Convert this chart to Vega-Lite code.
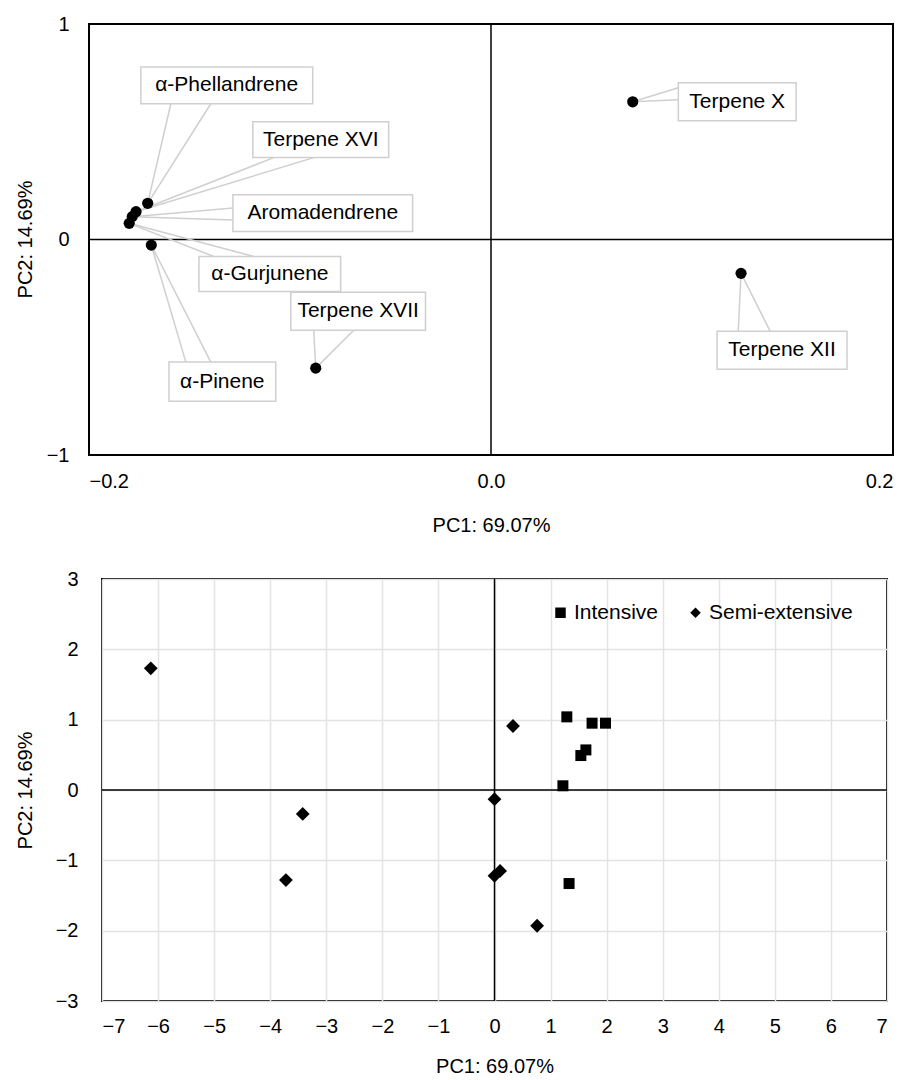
{
  "$schema": "https://vega.github.io/schema/vega-lite/v6.json",
  "padding": {"left": 14, "top": 14, "right": 5, "bottom": 5},
  "spacing": 33,
  "config": {
    "view": {"stroke": "black", "strokeWidth": 2},
    "font": "Liberation Sans",
    "axis": {"labelFont": "Liberation Sans", "titleFont": "Liberation Sans", "labelColor": "black", "titleColor": "black", "titleFontWeight": "normal", "labelFontSize": 20, "titleFontSize": 20, "ticks": false, "domain": false, "labelOverlap": false}
  },
  "datasets": {
    "loadings": [
      {"name": "α-Phellandrene", "pc1": -0.1708, "pc2": 0.168},
      {"name": "Terpene XVI", "pc1": -0.1766, "pc2": 0.129},
      {"name": "Aromadendrene", "pc1": -0.1785, "pc2": 0.106},
      {"name": "α-Gurjunene", "pc1": -0.180, "pc2": 0.075},
      {"name": "α-Pinene", "pc1": -0.169, "pc2": -0.026},
      {"name": "Terpene XVII", "pc1": -0.0872, "pc2": -0.597},
      {"name": "Terpene X", "pc1": 0.0705, "pc2": 0.639},
      {"name": "Terpene XII", "pc1": 0.1244, "pc2": -0.157}
    ],
    "labels": [
      {"name": "α-Phellandrene", "bx1": -0.1742, "bx2": -0.0887, "by1": 0.630, "by2": 0.801, "tx": -0.1315, "ty": 0.716},
      {"name": "Terpene XVI", "bx1": -0.1185, "bx2": -0.0509, "by1": 0.380, "by2": 0.546, "tx": -0.0847, "ty": 0.463},
      {"name": "Aromadendrene", "bx1": -0.1284, "bx2": -0.0390, "by1": 0.037, "by2": 0.208, "tx": -0.0837, "ty": 0.123},
      {"name": "α-Gurjunene", "bx1": -0.1453, "bx2": -0.0748, "by1": -0.241, "by2": -0.079, "tx": -0.110, "ty": -0.160},
      {"name": "Terpene XVII", "bx1": -0.0996, "bx2": -0.0326, "by1": -0.421, "by2": -0.245, "tx": -0.0661, "ty": -0.333},
      {"name": "α-Pinene", "bx1": -0.1602, "bx2": -0.1071, "by1": -0.750, "by2": -0.569, "tx": -0.1337, "ty": -0.660},
      {"name": "Terpene X", "bx1": 0.0932, "bx2": 0.1518, "by1": 0.551, "by2": 0.727, "tx": 0.1225, "ty": 0.639},
      {"name": "Terpene XII", "bx1": 0.1125, "bx2": 0.1771, "by1": -0.602, "by2": -0.426, "tx": 0.1448, "ty": -0.514}
    ],
    "leaders": [
      {"name": "α-Phellandrene", "px": -0.1708, "py": 0.168, "ax": -0.1593, "ay": 0.630},
      {"name": "α-Phellandrene", "px": -0.1708, "py": 0.168, "ax": -0.1394, "ay": 0.630},
      {"name": "Terpene XVI", "px": -0.1766, "py": 0.129, "ax": -0.1081, "ay": 0.380},
      {"name": "Terpene XVI", "px": -0.1766, "py": 0.129, "ax": -0.0882, "ay": 0.380},
      {"name": "Aromadendrene", "px": -0.1785, "py": 0.106, "ax": -0.1284, "ay": 0.146},
      {"name": "Aromadendrene", "px": -0.1785, "py": 0.106, "ax": -0.1284, "ay": 0.091},
      {"name": "α-Gurjunene", "px": -0.180, "py": 0.075, "ax": -0.1379, "ay": -0.079},
      {"name": "α-Gurjunene", "px": -0.180, "py": 0.075, "ax": -0.118, "ay": -0.079},
      {"name": "Terpene XVII", "px": -0.0872, "py": -0.597, "ax": -0.0882, "ay": -0.421},
      {"name": "Terpene XVII", "px": -0.0872, "py": -0.597, "ax": -0.0683, "ay": -0.421},
      {"name": "α-Pinene", "px": -0.169, "py": -0.026, "ax": -0.1518, "ay": -0.569},
      {"name": "α-Pinene", "px": -0.169, "py": -0.026, "ax": -0.1394, "ay": -0.569},
      {"name": "Terpene X", "px": 0.0705, "py": 0.639, "ax": 0.0932, "ay": 0.704},
      {"name": "Terpene X", "px": 0.0705, "py": 0.639, "ax": 0.0932, "ay": 0.648},
      {"name": "Terpene XII", "px": 0.1244, "py": -0.157, "ax": 0.1230, "ay": -0.426},
      {"name": "Terpene XII", "px": 0.1244, "py": -0.157, "ax": 0.1389, "ay": -0.426}
    ],
    "scores": [
      {"system": "Semi-extensive", "pc1": -6.13, "pc2": 1.73},
      {"system": "Semi-extensive", "pc1": 0.33, "pc2": 0.91},
      {"system": "Semi-extensive", "pc1": -3.42, "pc2": -0.34},
      {"system": "Semi-extensive", "pc1": -3.72, "pc2": -1.28},
      {"system": "Semi-extensive", "pc1": 0.0, "pc2": -0.13},
      {"system": "Semi-extensive", "pc1": 0.0, "pc2": -1.22},
      {"system": "Semi-extensive", "pc1": 0.1, "pc2": -1.15},
      {"system": "Semi-extensive", "pc1": 0.76, "pc2": -1.93},
      {"system": "Intensive", "pc1": 1.29, "pc2": 1.04},
      {"system": "Intensive", "pc1": 1.74, "pc2": 0.95},
      {"system": "Intensive", "pc1": 1.98, "pc2": 0.95},
      {"system": "Intensive", "pc1": 1.63, "pc2": 0.57},
      {"system": "Intensive", "pc1": 1.54, "pc2": 0.49},
      {"system": "Intensive", "pc1": 1.22, "pc2": 0.06},
      {"system": "Intensive", "pc1": 1.33, "pc2": -1.33}
    ]
  },
  "vconcat": [
    {
      "width": 791,
      "height": 431,
      "view": {"stroke": null},
      "layer": [
        {
          "data": {"values": [{"x1": -0.2, "x2": 0.2, "y1": -1, "y2": 1}]},
          "mark": {"type": "rect", "fill": null, "stroke": "black", "strokeWidth": 2},
          "encoding": {
            "x": {"field": "x1", "type": "quantitative", "scale": {"domain": [-0.2, 0.2], "range": [-13, 791], "nice": false, "zero": false},
              "axis": {"values": [-0.2, 0, 0.2], "format": ".1f", "grid": false, "labelPadding": 16, "title": "PC1: 69.07%", "titleY": 60}},
            "x2": {"field": "x2"},
            "y": {"field": "y1", "type": "quantitative", "scale": {"domain": [-1, 1], "nice": false, "zero": false},
              "axis": {"tickCount": 2, "format": "d", "grid": false, "offset": 13, "labelPadding": 20, "labelOverlap": false, "labelFlush": false, "labelBound": false, "title": "PC2: 14.69%", "titleX": -54, "titleY": 215}},
            "y2": {"field": "y2"}
          }
        },
        {
          "data": {"values": [{"z": 0, "x1": -0.2, "x2": 0.2}]},
          "mark": {"type": "rule", "color": "black", "strokeWidth": 1.5},
          "encoding": {
            "x": {"field": "x1", "type": "quantitative", "scale": {"domain": [-0.2, 0.2], "range": [-13, 791], "nice": false, "zero": false}},
            "x2": {"field": "x2"},
            "y": {"field": "z", "type": "quantitative", "scale": {"domain": [-1, 1], "nice": false, "zero": false}}
          }
        },
        {
          "data": {"values": [{"z": 0}]},
          "mark": {"type": "rule", "color": "black", "strokeWidth": 1.5},
          "encoding": {
            "x": {"field": "z", "type": "quantitative", "scale": {"domain": [-0.2, 0.2], "range": [-13, 791], "nice": false, "zero": false}}
          }
        },
        {
          "data": {"name": "leaders"},
          "mark": {"type": "rule", "color": "#cfcfcf", "strokeWidth": 1.5},
          "encoding": {
            "x": {"field": "px", "type": "quantitative", "scale": {"domain": [-0.2, 0.2], "range": [-13, 791], "nice": false, "zero": false}},
            "y": {"field": "py", "type": "quantitative", "scale": {"domain": [-1, 1], "nice": false, "zero": false}},
            "x2": {"field": "ax"},
            "y2": {"field": "ay"}
          }
        },
        {
          "data": {"name": "labels"},
          "mark": {"type": "rect", "fill": "white", "stroke": "#cfcfcf", "strokeWidth": 1.5},
          "encoding": {
            "x": {"field": "bx1", "type": "quantitative", "scale": {"domain": [-0.2, 0.2], "range": [-13, 791], "nice": false, "zero": false}},
            "x2": {"field": "bx2"},
            "y": {"field": "by1", "type": "quantitative", "scale": {"domain": [-1, 1], "nice": false, "zero": false}},
            "y2": {"field": "by2"}
          }
        },
        {
          "data": {"name": "labels"},
          "mark": {"type": "text", "fontSize": 21, "font": "Liberation Sans", "color": "black", "align": "center", "baseline": "middle"},
          "encoding": {
            "x": {"field": "tx", "type": "quantitative", "scale": {"domain": [-0.2, 0.2], "range": [-13, 791], "nice": false, "zero": false}},
            "y": {"field": "ty", "type": "quantitative", "scale": {"domain": [-1, 1], "nice": false, "zero": false}},
            "text": {"field": "name"}
          }
        },
        {
          "data": {"name": "loadings"},
          "mark": {"type": "point", "shape": "circle", "filled": true, "color": "black", "opacity": 1, "size": 125},
          "encoding": {
            "x": {"field": "pc1", "type": "quantitative", "scale": {"domain": [-0.2, 0.2], "range": [-13, 791], "nice": false, "zero": false}},
            "y": {"field": "pc2", "type": "quantitative", "scale": {"domain": [-1, 1], "nice": false, "zero": false}}
          }
        }
      ]
    },
    {
      "width": 785,
      "height": 422,
      "layer": [
        {
          "data": {"values": [{"z": 0}]},
          "mark": {"type": "rule", "color": "black", "strokeWidth": 1.5},
          "encoding": {
            "x": {"field": "z", "type": "quantitative", "scale": {"domain": [-7, 7], "nice": false, "zero": false},
              "axis": {"values": [-7, -6, -5, -4, -3, -2, -1, 0, 1, 2, 3, 4, 5, 6, 7], "format": "d", "grid": true, "gridColor": "#e3e3e3", "gridWidth": 1.5, "labelPadding": 15, "title": "PC1: 69.07%", "titleY": 55}}
          }
        },
        {
          "data": {"values": [{"z": 0}]},
          "mark": {"type": "rule", "color": "black", "strokeWidth": 1.5},
          "encoding": {
            "y": {"field": "z", "type": "quantitative", "scale": {"domain": [-3, 3], "nice": false, "zero": false},
              "axis": {"values": [-3, -2, -1, 0, 1, 2, 3], "format": "d", "grid": true, "gridColor": "#e3e3e3", "gridWidth": 1.5, "labelPadding": 24, "title": "PC2: 14.69%", "titleX": -67, "titleY": 211}}
          }
        },
        {
          "data": {"name": "scores"},
          "transform": [{"filter": "datum.system === 'Intensive'"}],
          "mark": {"type": "point", "filled": true, "color": "black", "opacity": 1, "size": 121},
          "encoding": {
            "x": {"field": "pc1", "type": "quantitative", "scale": {"domain": [-7, 7], "nice": false, "zero": false}},
            "y": {"field": "pc2", "type": "quantitative", "scale": {"domain": [-3, 3], "nice": false, "zero": false}},
            "shape": {"field": "system", "type": "nominal", "scale": {"domain": ["Intensive", "Semi-extensive"], "range": ["square", "diamond"]},
              "legend": {"orient": "none", "legendX": 448, "legendY": 578, "direction": "horizontal", "title": null, "labelFontSize": 21, "labelFont": "Liberation Sans", "labelColor": "black", "symbolFillColor": "black", "symbolStrokeColor": "black", "symbolStrokeWidth": 0, "symbolSize": 110, "labelOffset": 3, "columnPadding": 26, "padding": 0}}
          }
        },
        {
          "data": {"name": "scores"},
          "transform": [{"filter": "datum.system === 'Semi-extensive'"}],
          "mark": {"type": "point", "filled": true, "color": "black", "opacity": 1, "size": 190},
          "encoding": {
            "x": {"field": "pc1", "type": "quantitative", "scale": {"domain": [-7, 7], "nice": false, "zero": false}},
            "y": {"field": "pc2", "type": "quantitative", "scale": {"domain": [-3, 3], "nice": false, "zero": false}},
            "shape": {"field": "system", "type": "nominal", "scale": {"domain": ["Intensive", "Semi-extensive"], "range": ["square", "diamond"]}}
          }
        }
      ]
    }
  ]
}
